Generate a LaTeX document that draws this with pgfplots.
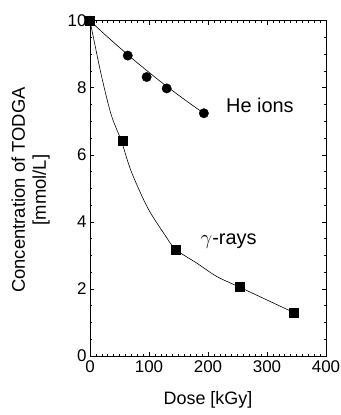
\documentclass[border=0pt]{standalone}
\usepackage{pgfplots}
\pgfplotsset{compat=1.18}
\usepackage{fontspec}
\setmainfont{Liberation Sans}
\begin{document}
\begin{tikzpicture}
\useasboundingbox (-90bp,-59bp) rectangle (251bp,356bp);
\begin{axis}[
  at={(0,0)}, anchor=south west,
  scale only axis, width=236bp, height=335.3bp,
  xmin=0, xmax=400, ymin=0, ymax=10,
  xtick={0,100,200,300,400}, ytick={0,2,4,6,8,10},
  minor x tick num=9, minor y tick num=3,
  tick align=inside, tick pos=both,
  major tick length=4bp, minor tick length=2.5bp,
  tick style={black, line width=0.6pt},
  axis line style={line width=0.8pt},
  /pgf/number format/assume math mode=true,
  ticklabel style={font=\fontsize{17}{19}\selectfont},
  xticklabel style={yshift=-1bp},
  xlabel={Dose [kGy]},
  xlabel style={font=\fontsize{18}{20}\selectfont, at={(axis description cs:0.5,0)}, anchor=center, yshift=-44bp},
  ylabel={Concentration of TODGA\\{}[mmol/L]},
  ylabel style={font=\fontsize{18.5}{21}\selectfont, align=center, at={(axis description cs:-0.252,0.495)}, anchor=center},
]
% fit lines
\addplot[black, line width=0.6pt, smooth] coordinates {
(0,10) (25,9.59) (50,9.20) (75,8.82) (100,8.46) (125,8.11) (150,7.78) (175,7.46) (193,7.24)};
\addplot[black, line width=0.6pt, smooth, tension=0.5] coordinates {
(0,10) (19,8.39) (36,7.19) (53,6.42) (70,5.50) (98,4.41) (127,3.61) (145,3.18) (181,2.77) (215,2.37) (254,2.05) (300,1.67) (345,1.30)};
% data
\addplot[only marks, mark=*, mark size=4.7bp, black] coordinates {
(0,10) (64,8.96) (96,8.32) (130,7.98) (193,7.24)};
\addplot[only marks, mark=square*, mark size=4.5bp, black] coordinates {
(0,10) (55,6.41) (145,3.18) (254,2.07) (345,1.30)};
\node[font=\fontsize{20}{22}\selectfont] at (axis cs:288,7.46) {He ions};
\node[font=\fontsize{20}{22}\selectfont] at (axis cs:235,3.43) {$\gamma$-rays};
\end{axis}
\end{tikzpicture}
\end{document}
